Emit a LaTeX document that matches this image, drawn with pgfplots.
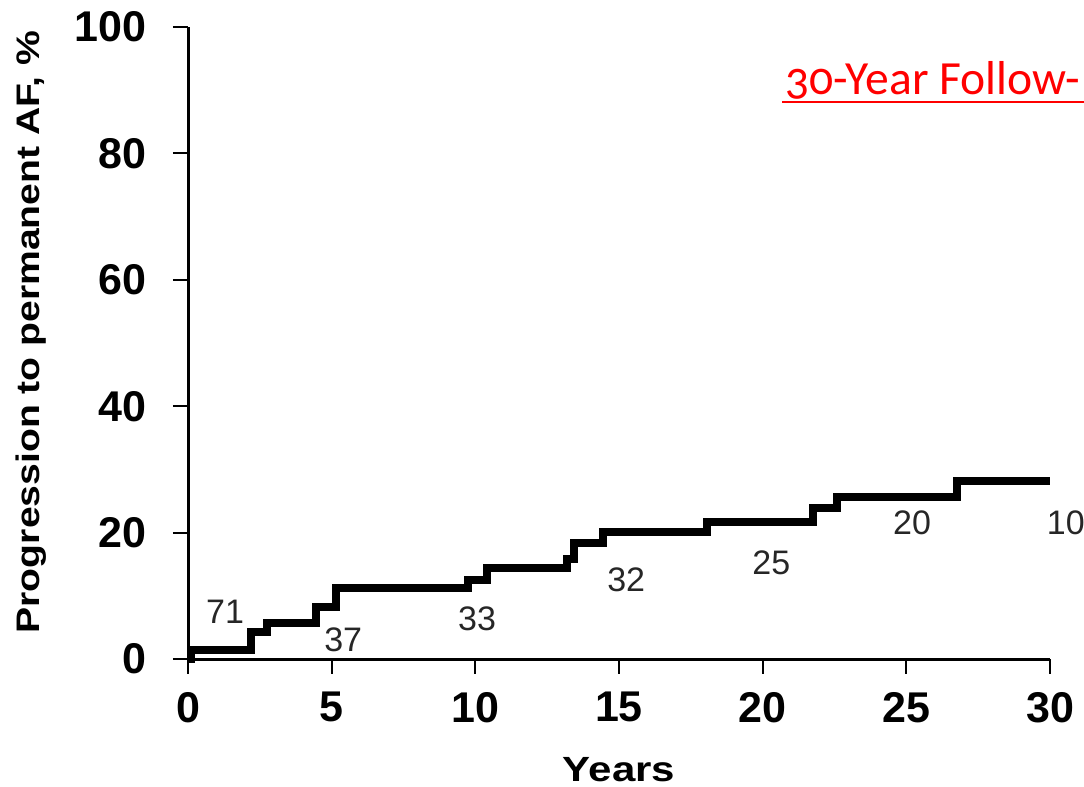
\documentclass[border=0pt]{standalone}
\usepackage{pgfplots}
\pgfplotsset{compat=1.18}
\usepackage{fontspec}
\setmainfont{Liberation Sans}
\newfontfamily\tickfont{Liberation Sans}
\newfontfamily\labfont[FakeStretch=1.2]{Liberation Sans}
\newfontfamily\titlefont[Numbers=OldStyle]{Carlito}

\begin{document}
\begin{tikzpicture}
\useasboundingbox (0bp,0bp) rectangle (542bp,393.5bp);
\begin{axis}[
  at={(94bp,64bp)}, anchor=south west,
  scale only axis, width=431bp, height=316bp,
  xmin=0, xmax=30, ymin=0, ymax=100,
  axis x line*=bottom, axis y line*=left,
  axis line style={-, line width=1.5bp, black},
  xtick={0,5,...,30}, ytick={0,20,...,100},
  tick align=outside, major tick length=7.5bp,
  tick style={line width=1bp, black},
  /pgf/number format/assume math mode=true,
  tick label style={font=\tickfont\bfseries\fontsize{21.5bp}{24bp}\selectfont},
  yticklabel style={anchor=east, inner sep=0pt, xshift=-13bp},
  xticklabel style={anchor=north, inner sep=0pt, yshift=-9bp},
  xlabel={Years},
  ylabel={Progression to permanent AF, \%},
  xlabel style={font=\labfont\bfseries\fontsize{17.5bp}{20bp}\selectfont,
    at={(axis description cs:0.5,-0.1946)}, anchor=base},
  ylabel style={font=\labfont\bfseries\fontsize{16.3bp}{19bp}\selectfont,
    at={(axis description cs:-0.182,0.517)}, anchor=center},
  clip=false,
]
% cumulative progression, step function
\addplot[const plot, black, line width=4bp, line join=miter] coordinates {
  (0,0) (0.1,1.4) (2.2,4.2) (2.75,5.7) (4.45,8.3) (5.15,11.3)
  (9.75,12.5) (10.4,14.4) (13.2,15.8) (13.45,18.4) (14.45,20.1)
  (18.05,21.7) (21.75,23.9) (22.6,25.7) (26.75,28.2) (30,28.2)
};
% numbers at risk
\begin{scope}[every node/.style={font=\fontsize{17bp}{17bp}\selectfont, text=black!85, inner sep=0pt}]
\node at (axis cs:1.29,7.4) {71};
\node at (axis cs:5.4,3.0) {37};
\node at (axis cs:10.06,6.3) {33};
\node at (axis cs:15.25,12.5) {32};
\node at (axis cs:20.3,15.2) {25};
\node at (axis cs:25.2,21.5) {20};
\node at (axis cs:30.55,21.5) {10};
\end{scope}
\end{axis}
\node[anchor=base west, inner sep=0pt, text=red,
  font=\titlefont\fontsize{23.8bp}{23.8bp}\selectfont] at (392.5bp,346bp) {30-Year Follow-};
\draw[red, line width=1.2bp] (391bp,342.5bp) -- (542bp,342.5bp);
\end{tikzpicture}
\end{document}
